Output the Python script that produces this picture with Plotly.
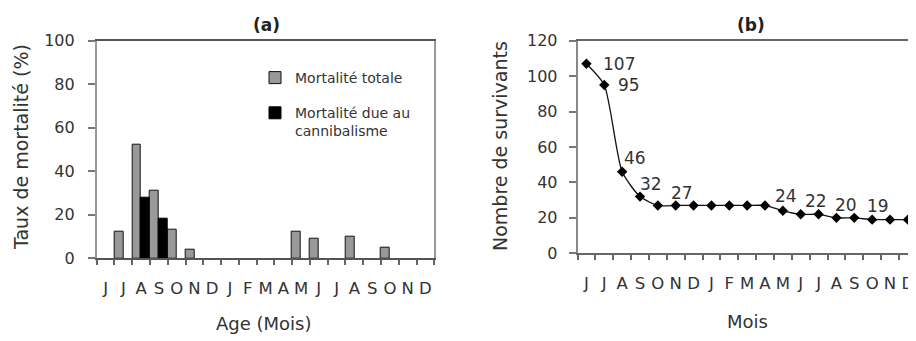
import plotly.graph_objects as go

# ---------------- data ----------------
months = ["J", "J", "A", "S", "O", "N", "D", "J", "F", "M",
          "A", "M", "J", "J", "A", "S", "O", "N", "D"]
mort_totale = [None, 12, 52, 31, 13, 4, None, None, None, None,
               None, 12, 9, None, 10, None, 5, None, None]
mort_cannib = [None, None, 28, 18, None, None, None, None, None, None,
               None, None, None, None, None, None, None, None, None]
survivants = [107, 95, 46, 32, 27, 27, 27, 27, 27, 27,
              27, 24, 22, 22, 20, 20, 19, 19, 19]
label_idx = [0, 1, 2, 3, 5, 11, 13, 15, 16]
name_tot = "Mortalité totale"
name_can = "Mortalité due au<br>cannibalisme"

# ---------------- styles ----------------
W, H = 916, 341
OFF = 8  # page body margin
FONT = "DejaVu Sans"
TXT = "#333333"
label_shift = [(33, 0), (25, 0), (13, 14), (11, 13), (6, 12),
               (3, 15), (-3, 13), (-8, 13), (6, 14)]


def fx(p):
    return (p - OFF) / W


def fy(p):
    return 1 - (p - OFF) / H


n = len(months)
xs = list(range(n))

fig = go.Figure()
fig.add_trace(go.Bar(
    x=xs, y=mort_totale, name=name_tot, legendgroup="g1",
    marker=dict(color="#999999", line=dict(color="#111111", width=1)),
    xaxis="x", yaxis="y"))
fig.add_trace(go.Bar(
    x=xs, y=mort_cannib, name=name_can, legendgroup="g2",
    marker=dict(color="#000000", line=dict(color="#000000", width=1)),
    xaxis="x", yaxis="y"))
fig.add_trace(go.Scatter(
    x=xs, y=survivants, mode="lines+markers", showlegend=False,
    line=dict(color="#111111", width=1.3, shape="spline", smoothing=0.6),
    marker=dict(symbol="diamond", size=8, color="#000000"),
    xaxis="x2", yaxis="y2"))

common_x = dict(
    tickmode="array", tickvals=xs, ticktext=months, ticks="",
    tickfont=dict(family=FONT, size=16.5, color=TXT),
    ticklabelstandoff=14, showgrid=False, zeroline=False,
    showline=True, linewidth=1.6, mirror=True,
    minor=dict(tickmode="array", tickvals=[i - 0.5 for i in range(n + 1)],
               ticks="outside", ticklen=5, tickwidth=1.5, tickcolor="#666666"),
    automargin=False,
)
common_y = dict(
    ticks="outside", ticklen=7, tickwidth=1.5, tickcolor="#777777",
    tickfont=dict(family=FONT, size=16, color=TXT),
    showgrid=False, zeroline=False, showline=True, linewidth=1.6,
    mirror=True, automargin=False,
)

fig.update_layout(
    width=W, height=H,
    margin=dict(l=0, r=0, t=0, b=0),
    paper_bgcolor="white", plot_bgcolor="white",
    barmode="group", bargap=0, bargroupgap=0,
    xaxis=dict(common_x, domain=[fx(96.7), fx(434.3)], range=[-0.5, n - 0.5],
               linecolor="#555555", anchor="y"),
    yaxis=dict(common_y, domain=[fy(258.3), fy(40.7)], range=[0, 100],
               dtick=20, linecolor="#999999", ticklabelstandoff=10, anchor="x"),
    xaxis2=dict(common_x, domain=[fx(577.5), fx(915)], range=[-0.5, n - 0.6],
                linecolor="#666666", anchor="y2"),
    yaxis2=dict(common_y, domain=[fy(253.3), fy(40.7)], range=[0, 120],
                dtick=20, linecolor="#888888", ticklabelstandoff=8, anchor="x2"),
    legend=dict(x=fx(255), y=fy(62), xanchor="left", yanchor="top",
                bgcolor="rgba(0,0,0,0)", font=dict(family=FONT, size=14, color=TXT),
                traceorder="grouped", tracegroupgap=14, valign="top"),
    showlegend=True,
)


def txt(text, x, y, size, angle=0, color=TXT):
    return dict(text=text, x=fx(x), y=fy(y), xref="paper", yref="paper",
                xanchor="center", yanchor="middle", textangle=angle,
                showarrow=False, font=dict(family=FONT, size=size, color=color))


ann = [
    txt("<b>(a)</b>", 266, 25.5, 17, color="#222222"),
    txt("<b>(b)</b>", 751, 25, 17, color="#222222"),
    txt("Age (Mois)", 264, 323, 18),
    txt("Mois", 747, 321.5, 18),
    txt("Taux de mortalité (%)", 21, 147, 19, angle=-90),
    txt("Nombre de survivants", 500, 146, 19, angle=-90),
]
# data labels on panel b
for i, (dx, dy) in zip(label_idx, label_shift):
    ann.append(dict(text=str(survivants[i]), x=i, y=survivants[i], xref="x2", yref="y2",
                    xanchor="center", yanchor="middle",
                    xshift=dx, yshift=dy, showarrow=False,
                    font=dict(family=FONT, size=17, color=TXT)))
fig.update_layout(annotations=ann)

fig.write_html("out.html")
